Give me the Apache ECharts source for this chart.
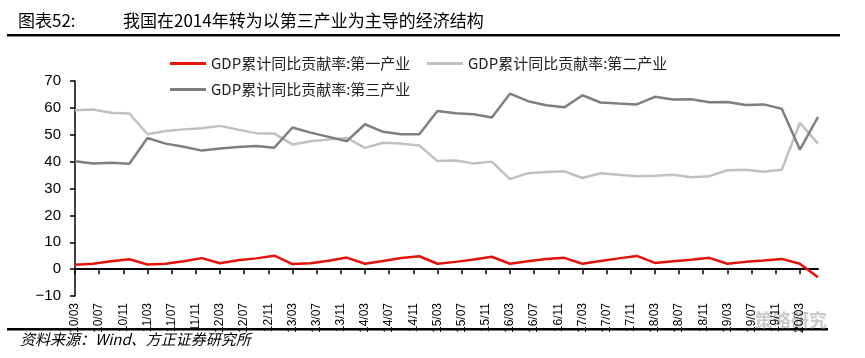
<!DOCTYPE html>
<html>
<head>
<meta charset="utf-8">
<script src="https://cdn.jsdelivr.net/npm/echarts@6/dist/echarts.min.js"></script>
<style>
html,body{margin:0;padding:0;background:#fff;}
#chart{width:865px;height:358px;}
</style>
</head>
<body>
<div id="chart"></div>
<script>
// ---- Data ----
var quarters = [
  '10/03','10/06','10/09','10/12','11/03','11/06','11/09','11/12',
  '12/03','12/06','12/09','12/12','13/03','13/06','13/09','13/12',
  '14/03','14/06','14/09','14/12','15/03','15/06','15/09','15/12',
  '16/03','16/06','16/09','16/12','17/03','17/06','17/09','17/12',
  '18/03','18/06','18/09','18/12','19/03','19/06','19/09','19/12',
  '20/03','20/06'
];
var primary = [
  1.6, 2.0, 2.9, 3.7, 1.7, 2.0, 2.9, 4.1,
  2.2, 3.3, 4.0, 5.0, 1.9, 2.2, 3.1, 4.3,
  2.0, 3.0, 4.1, 4.8, 2.0, 2.7, 3.6, 4.6,
  2.0, 2.9, 3.8, 4.2, 2.0, 3.0, 4.0, 4.9,
  2.3, 2.9, 3.5, 4.2, 2.0, 2.7, 3.2, 3.8,
  2.0, -3.0
];
var secondary = [
  59.1, 59.4, 58.2, 57.9, 50.2, 51.4, 52.0, 52.4,
  53.3, 51.9, 50.6, 50.4, 46.4, 47.6, 48.2, 48.8,
  45.1, 47.0, 46.7, 46.0, 40.2, 40.4, 39.3, 40.0,
  33.5, 35.7, 36.1, 36.4, 33.9, 35.7, 35.1, 34.6,
  34.7, 35.1, 34.2, 34.6, 36.8, 37.0, 36.2, 37.0,
  54.4, 46.7
];
var tertiary = [
  40.1, 39.3, 39.6, 39.2, 48.8, 46.7, 45.5, 44.1,
  44.9, 45.4, 45.8, 45.2, 52.7, 50.8, 49.2, 47.6,
  53.9, 51.1, 50.2, 50.2, 58.8, 58.0, 57.6, 56.4,
  65.3, 62.5, 61.0, 60.2, 64.7, 62.0, 61.6, 61.3,
  64.1, 63.1, 63.2, 62.1, 62.2, 61.1, 61.3, 59.7,
  44.5, 56.6
];
var seriesNames = ['GDP累计同比贡献率:第一产业','GDP累计同比贡献率:第二产业','GDP累计同比贡献率:第三产业'];
var yTicks = [-10, 0, 10, 20, 30, 40, 50, 60, 70];
var titleLeft = '图表52:';
var titleMain = '我国在2014年转为以第三产业为主导的经济结构';
var sourceText = '资料来源：Wind、方正证券研究所';

// ---- Build monthly category axis from first to last quarter ----
function pad(n){return (n<10?'0':'')+n;}
var months = [];
(function(){
  var s = quarters[0].split('/'), e = quarters[quarters.length-1].split('/');
  var y = +s[0], m = +s[1], ey = +e[0], em = +e[1];
  while (y < ey || (y === ey && m <= em)) {
    months.push(pad(y)+'/'+pad(m));
    m++; if (m > 12) { m = 1; y++; }
  }
})();
function toMonthly(vals){
  var out = months.map(function(){return null;});
  quarters.forEach(function(q,i){ out[months.indexOf(q)] = vals[i]; });
  return out;
}

var chart = echarts.init(document.getElementById('chart'));
var font = "'Liberation Sans', Arial, sans-serif";
var cjk = "'Noto Sans CJK SC', sans-serif";
var colors = ['#e3120b', '#c0c0c0', '#7f7f7f'];
var legendText = { fontFamily: cjk, fontSize: 15, color: '#222' };

var option = {
  backgroundColor: '#fff',
  animation: false,
  color: colors,
  grid: { left: 75, right: 47, top: 81, bottom: 62, containLabel: false },
  legend: [{
    left: 165, top: 51, itemWidth: 36, itemHeight: 3, icon: 'rect',
    data: [seriesNames[0]], textStyle: legendText
  },{
    left: 422, top: 51, itemWidth: 36, itemHeight: 3, icon: 'rect',
    data: [seriesNames[1]], textStyle: legendText
  },{
    left: 165, top: 77, itemWidth: 36, itemHeight: 3, icon: 'rect',
    data: [seriesNames[2]], textStyle: legendText
  }],
  xAxis: {
    type: 'category',
    data: months,
    boundaryGap: false,
    axisLine: { onZero: true, lineStyle: { color: '#000', width: 2 } },
    axisTick: { show: true, length: 5, lineStyle: { color: '#000', width: 1.5 },
      interval: function(i){ return i % 4 === 0; } },
    axisLabel: {
      rotate: 90, fontFamily: font, fontSize: 12, color: '#000', margin: 7,
      interval: function(i){ return i % 4 === 0; }
    },
    splitLine: { show: false }
  },
  yAxis: {
    type: 'value',
    min: yTicks[0], max: yTicks[yTicks.length-1], interval: 10,
    axisLine: { show: true, lineStyle: { color: '#000', width: 1.5 } },
    axisTick: { show: true, length: 5, lineStyle: { color: '#000', width: 1.5 } },
    axisLabel: { fontFamily: font, fontSize: 15, color: '#000', margin: 14,
      formatter: function(v){ return v < 0 ? '\u2212' + Math.abs(v) : String(v); } },
    splitLine: { show: false }
  },
  series: [
    { name: seriesNames[0], type: 'line', data: toMonthly(primary), connectNulls: true,
      showSymbol: false, symbol: 'none', lineStyle: { width: 2.5, color: colors[0] }, z: 3 },
    { name: seriesNames[1], type: 'line', data: toMonthly(secondary), connectNulls: true,
      showSymbol: false, symbol: 'none', lineStyle: { width: 2.5, color: colors[1] }, z: 2 },
    { name: seriesNames[2], type: 'line', data: toMonthly(tertiary), connectNulls: true,
      showSymbol: false, symbol: 'none', lineStyle: { width: 2.5, color: colors[2] }, z: 2 }
  ],
  graphic: [
    { type: 'text', left: 18, top: 12, style: { text: titleLeft, font: "17px 'Noto Sans CJK SC', sans-serif", fill: '#000' } },
    { type: 'text', left: 123, top: 12, style: { text: titleMain, font: "17px 'Noto Sans CJK SC', sans-serif", fill: '#000' } },
    { type: 'rect', shape: { x: 7, y: 34, width: 833, height: 2.5 }, style: { fill: '#000' } },
    { type: 'rect', shape: { x: 7, y: 328, width: 821, height: 2.5 }, style: { fill: '#000' } },
    { type: 'text', left: 20, top: 332, style: { text: sourceText, font: "italic 15px 'Noto Sans CJK SC', sans-serif", fill: '#000' } },
    { type: 'text', left: 755, top: 311, style: { text: '策略研究', font: "bold 18px 'Noto Sans CJK SC', sans-serif", fill: 'rgba(150,150,150,0.5)' } }
  ]
};
chart.setOption(option);
</script>
</body>
</html>
